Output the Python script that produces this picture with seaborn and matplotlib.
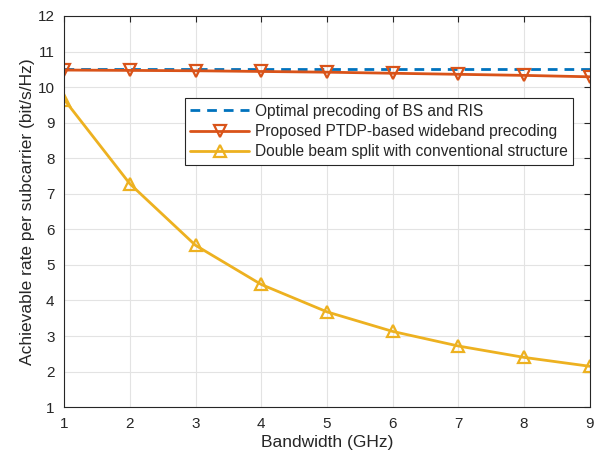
import matplotlib
matplotlib.use("Agg")
import matplotlib.pyplot as plt
import seaborn as sns
import pandas as pd

bandwidth = [1, 2, 3, 4, 5, 6, 7, 8, 9]
optimal = [10.5, 10.5, 10.5, 10.5, 10.5, 10.5, 10.5, 10.5, 10.5]
proposed = [10.48, 10.47, 10.46, 10.44, 10.42, 10.39, 10.36, 10.33, 10.29]
double_split = [9.65, 7.28, 5.55, 4.45, 3.68, 3.13, 2.72, 2.40, 2.15]
labels = ["Optimal precoding of BS and RIS",
          "Proposed PTDP-based wideband precoding",
          "Double beam split with conventional structure"]

sns.set_style("white")
plt.rcParams['font.family'] = ['Liberation Sans', 'DejaVu Sans']

df = pd.DataFrame({"bw": bandwidth, "opt": optimal, "prop": proposed, "dbl": double_split})

fig = plt.figure(figsize=(6.0, 4.57), dpi=100)
ax = fig.add_axes([0.107, 0.109, 0.876, 0.856])

sns.lineplot(data=df, x="bw", y="opt", ax=ax, color="#0072BD", lw=2.0,
             linestyle=(0, (3.5, 2.5)), label=labels[0])
sns.lineplot(data=df, x="bw", y="prop", ax=ax, color="#D95319", lw=2.0,
             marker="v", markersize=9, markerfacecolor="none",
             markeredgecolor="#D95319", markeredgewidth=1.6, label=labels[1])
sns.lineplot(data=df, x="bw", y="dbl", ax=ax, color="#EDB120", lw=2.0,
             marker="^", markersize=9, markerfacecolor="none",
             markeredgecolor="#EDB120", markeredgewidth=1.6, label=labels[2])

ax.set_xlim(1, 9)
ax.set_ylim(1, 12)
ax.set_xticks(range(1, 10))
ax.set_yticks(range(1, 13))
ax.grid(True, color="#e3e3e3", lw=0.8)
ax.tick_params(direction="in", top=True, right=True, labelsize=11,
               colors="#262626", length=4, pad=7)
for s in ax.spines.values():
    s.set_color("#262626")
    s.set_linewidth(0.8)
ax.set_xlabel("Bandwidth (GHz)", fontsize=12.5, color="#262626", labelpad=3)
ax.set_ylabel("Achievable rate per subcarrier (bit/s/Hz)", fontsize=12.5,
              color="#262626", labelpad=2)

leg = ax.legend(loc="upper right", bbox_to_anchor=(0.968, 0.79), fontsize=11.2,
                frameon=True, fancybox=False, framealpha=1, edgecolor="#262626",
                borderpad=0.35, labelspacing=0.35, handlelength=3.8, handletextpad=0.35,
                borderaxespad=0)
leg.get_frame().set_linewidth(0.8)

fig.savefig("out.png", dpi=100)
